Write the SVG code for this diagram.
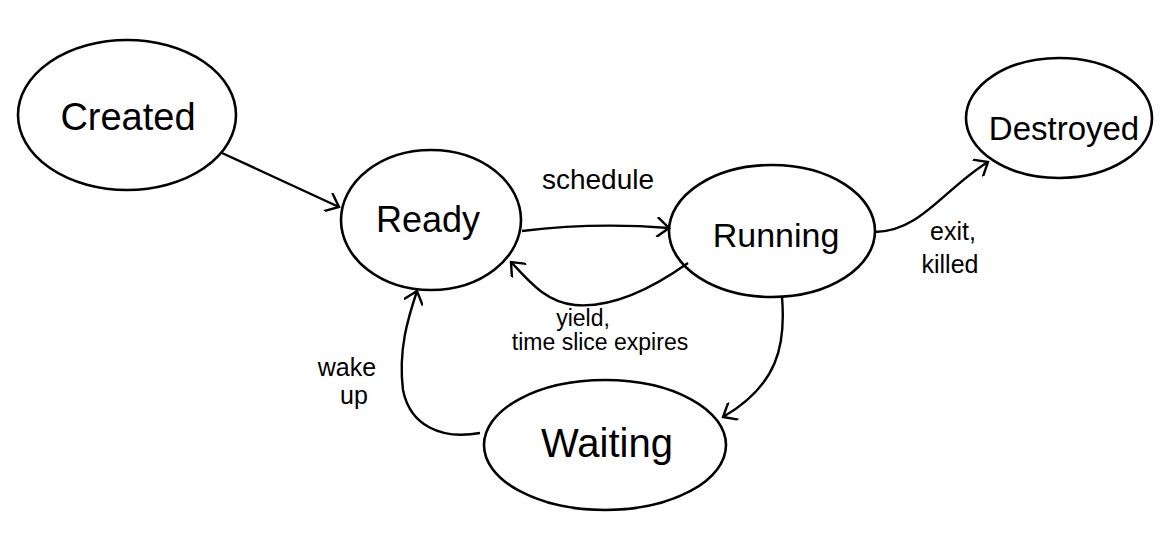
<svg xmlns="http://www.w3.org/2000/svg" width="1168" height="544" viewBox="0 0 1168 544">
<style>
.node{fill:none;stroke:#000;stroke-width:2.6}
.edge{fill:none;stroke:#000;stroke-width:2.4}
.nlabel{font-family:"Liberation Sans",Arial,sans-serif;font-size:36px;fill:#000;text-anchor:middle}
.elabel{font-family:"Liberation Sans",Arial,sans-serif;font-size:25px;fill:#000;text-anchor:middle}
</style>
<defs>
<marker id="arr" viewBox="0 0 20 20" refX="18" refY="10" markerWidth="20" markerHeight="20" markerUnits="userSpaceOnUse" orient="auto">
<path d="M6,0 L18,10 L6,20" fill="none" stroke="#000" stroke-width="2.4"/>
</marker>
</defs>
<rect width="1168" height="544" fill="#fff"/>
<g id="connectors">
<path class="edge" d="M222,153 L339,207" marker-end="url(#arr)"/>
<path class="edge" d="M522,231 Q595,222 669,228" marker-end="url(#arr)"/>
<path class="edge" d="M688,263 C650,290 610,308 575,305 C545,302 528,280 511,262" marker-end="url(#arr)"/>
<path class="edge" d="M782,297 C786,345 778,385 723,417" marker-end="url(#arr)"/>
<path class="edge" d="M480,433 C440,440 410,425 403,390 C398,350 408,318 417,291" marker-end="url(#arr)"/>
<path class="edge" d="M875,232 C920,232 945,188 988,162" marker-end="url(#arr)"/>
<text class="elabel" x="598" y="189" style="font-size:28px">schedule</text>
<text class="elabel" x="583" y="326" style="font-size:23px">yield,</text>
<text class="elabel" x="600" y="350" style="font-size:23px">time slice expires</text>
<text class="elabel" x="347" y="376">wake</text>
<text class="elabel" x="354" y="404">up</text>
<text class="elabel" x="953" y="240">exit,</text>
<text class="elabel" x="950" y="273">killed</text>
</g>
<g id="created">
<ellipse class="node" cx="127" cy="115" rx="109" ry="75"/>
<text class="nlabel" x="128" y="130" style="font-size:38px">Created</text>
</g>
<g id="ready">
<ellipse class="node" cx="431" cy="220" rx="90" ry="70"/>
<text class="nlabel" x="428" y="232">Ready</text>
</g>
<g id="running">
<ellipse class="node" cx="772" cy="231" rx="103" ry="66"/>
<text class="nlabel" x="776" y="247" style="font-size:34px">Running</text>
</g>
<g id="destroyed">
<ellipse class="node" cx="1059" cy="118" rx="93" ry="60"/>
<text class="nlabel" x="1064" y="140" style="font-size:33px">Destroyed</text>
</g>
<g id="waiting">
<ellipse class="node" cx="605" cy="445" rx="121" ry="65"/>
<text class="nlabel" x="607" y="457" style="font-size:40px">Waiting</text>
</g>
</svg>
